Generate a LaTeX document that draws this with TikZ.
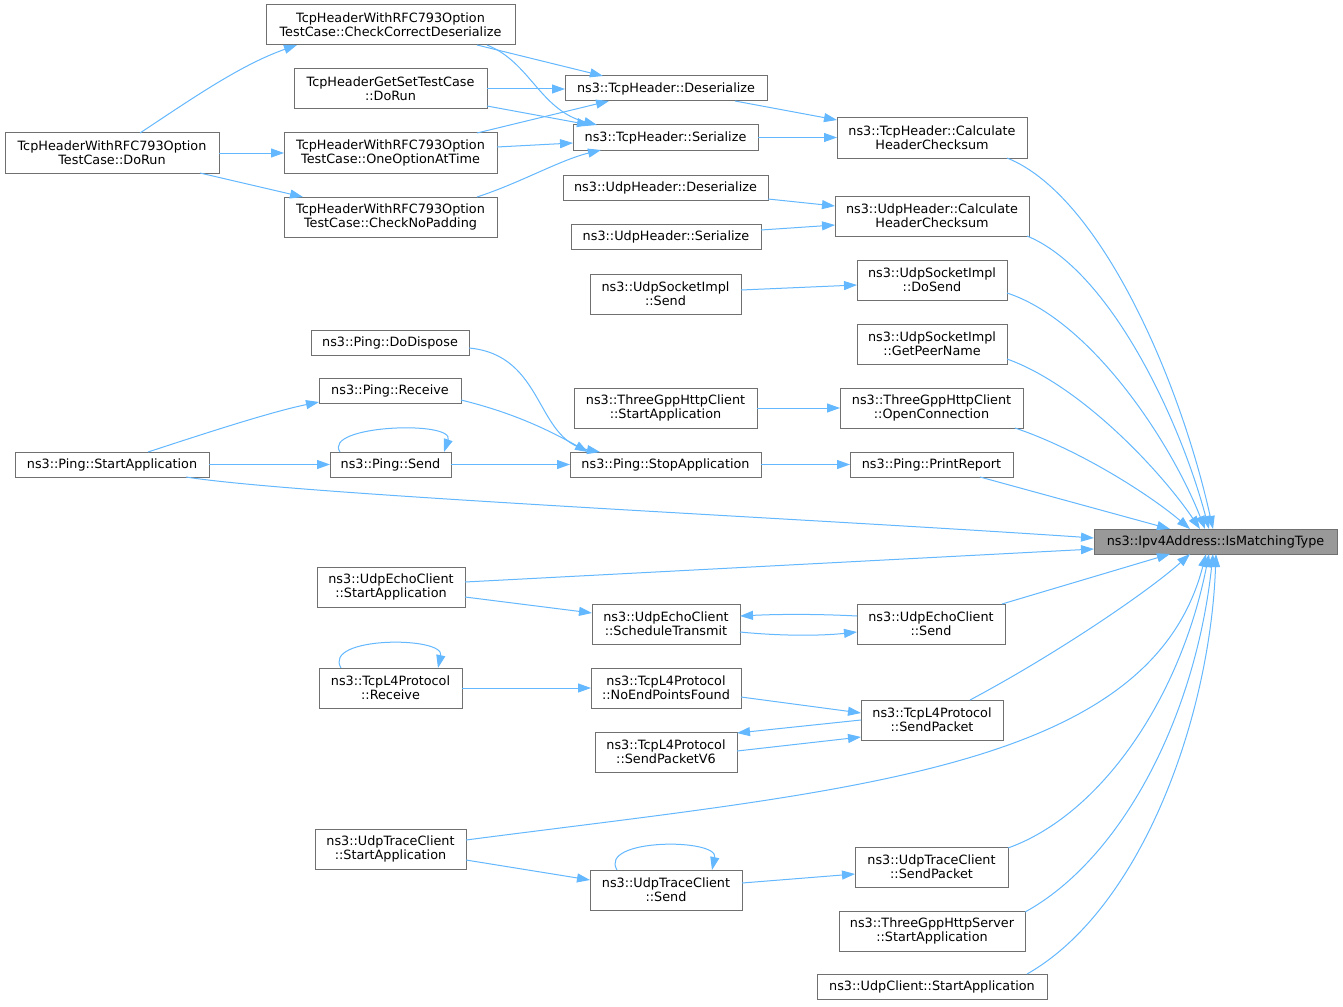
\documentclass[tikz,border=0pt]{standalone}
\usepackage{fontspec}
\setmainfont{DejaVu Sans}
\usetikzlibrary{arrows.meta,calc}
\definecolor{edgec}{HTML}{63B8FF}
\definecolor{bord}{HTML}{707070}
\definecolor{hl}{HTML}{999999}
\tikzset{
 box/.style={draw=bord, line width=1pt, fill=white, inner sep=0pt, outer sep=0pt, align=center, font=\fontsize{12.8}{14}\selectfont},
 hlbox/.style={box, fill=hl},
 edge/.style={draw=edgec, line width=1pt, -{Triangle[length=13pt,width=9pt]}},
}
\newcommand\dxnode[7][]{\node[box,#1,minimum width={#5-#3},minimum height={#6-#4}] (#2) at ({(#3+#5)/2},{(#4+#6)/2}) {#7};}
\begin{document}
\begin{tikzpicture}[x=1pt,y=-1pt]
\useasboundingbox[fill=white] (0,0) rectangle (1343,1006);
% nodes
\dxnode{ccd}{266}{5}{515}{45}{TcpHeaderWithRFC793Option\\TestCase::CheckCorrectDeserialize}
\dxnode{gsdr}{294}{69}{487}{109}{TcpHeaderGetSetTestCase\\::DoRun}
\dxnode{rfcdr}{5}{133}{219}{173}{TcpHeaderWithRFC793Option\\TestCase::DoRun}
\dxnode{ooat}{284}{133}{497}{173}{TcpHeaderWithRFC793Option\\TestCase::OneOptionAtTime}
\dxnode{cnp}{284}{197}{497}{237}{TcpHeaderWithRFC793Option\\TestCase::CheckNoPadding}
\dxnode{tdes}{565}{76}{767}{101}{ns3::TcpHeader::Deserialize}
\dxnode{tser}{573}{125}{758}{150}{ns3::TcpHeader::Serialize}
\dxnode{tchk}{837}{118}{1027}{158}{ns3::TcpHeader::Calculate\\HeaderChecksum}
\dxnode{udes}{563}{175}{768}{200}{ns3::UdpHeader::Deserialize}
\dxnode{user}{571}{224}{761}{249}{ns3::UdpHeader::Serialize}
\dxnode{uchk}{835}{196}{1029}{236}{ns3::UdpHeader::Calculate\\HeaderChecksum}
\dxnode{uss}{590}{274}{741}{314}{ns3::UdpSocketImpl\\::Send}
\dxnode{dosend}{857}{260}{1007}{300}{ns3::UdpSocketImpl\\::DoSend}
\dxnode{gpn}{857}{324}{1007}{364}{ns3::UdpSocketImpl\\::GetPeerName}
\dxnode{pdd}{311}{330}{469}{355}{ns3::Ping::DoDispose}
\dxnode{prcv}{319}{378}{461}{403}{ns3::Ping::Receive}
\dxnode{tgsa}{574}{388}{757}{428}{ns3::ThreeGppHttpClient\\::StartApplication}
\dxnode{tgoc}{840}{388}{1023}{428}{ns3::ThreeGppHttpClient\\::OpenConnection}
\dxnode{psa}{15}{452}{209}{477}{ns3::Ping::StartApplication}
\dxnode{psend}{330}{452}{451}{477}{ns3::Ping::Send}
\dxnode{pstop}{570}{452}{761}{477}{ns3::Ping::StopApplication}
\dxnode{ppr}{850}{452}{1013}{477}{ns3::Ping::PrintReport}
\dxnode[hlbox]{ipv4}{1094}{529}{1337}{554}{ns3::Ipv4Address::IsMatchingType}
\dxnode{uecsa}{317}{567}{465}{607}{ns3::UdpEchoClient\\::StartApplication}
\dxnode{uecst}{592}{604}{740}{644}{ns3::UdpEchoClient\\::ScheduleTransmit}
\dxnode{uecsend}{857}{604}{1005}{644}{ns3::UdpEchoClient\\::Send}
\dxnode{tcprcv}{319}{668}{462}{708}{ns3::TcpL4Protocol\\::Receive}
\dxnode{nepf}{591}{668}{741}{708}{ns3::TcpL4Protocol\\::NoEndPointsFound}
\dxnode{tcpsp}{861}{700}{1003}{740}{ns3::TcpL4Protocol\\::SendPacket}
\dxnode{tcpsp6}{595}{732}{737}{772}{ns3::TcpL4Protocol\\::SendPacketV6}
\dxnode{utcsa}{315}{829}{466}{869}{ns3::UdpTraceClient\\::StartApplication}
\dxnode{utcsend}{590}{870}{742}{910}{ns3::UdpTraceClient\\::Send}
\dxnode{utcsp}{855}{847}{1008}{887}{ns3::UdpTraceClient\\::SendPacket}
\dxnode{tghs}{839}{911}{1025}{951}{ns3::ThreeGppHttpServer\\::StartApplication}
\dxnode{ucsa}{817}{974}{1047}{999}{ns3::UdpClient::StartApplication}
% edges
\draw[edge] ([shift={(135,0)}]rfcdr.north west) .. controls +(50,-33) and +(-57,20) .. ([shift={(31,40)}]ccd.north west);
\draw[edge] (rfcdr.east) -- (ooat.west);
\draw[edge] ([shift={(195,40)}]rfcdr.north west) -- ([shift={(19,0)}]cnp.north west);
\draw[edge] ([shift={(211,40)}]ccd.north west) -- ([shift={(38,0)}]tdes.north west);
\draw[edge] ([shift={(221,40)}]ccd.north west) .. controls +(43,17) and +(-57,-15) .. ([shift={(24,0)}]tser.north west);
\draw[edge] (gsdr.east) -- (gsdr.east -| tdes.west);
\draw[edge] ([shift={(193,37)}]gsdr.north west) -- ([shift={(17,0)}]tser.north west);
\draw[edge] ([shift={(193,0)}]ooat.north west) -- ([shift={(44,25)}]tdes.north west);
\draw[edge] ([shift={(213,14)}]ooat.north west) -- ([shift={(0,18)}]tser.north west);
\draw[edge] ([shift={(193,0)}]cnp.north west) .. controls +(43,-14) and +(-41,10) .. ([shift={(28,25)}]tser.north west);
\draw[edge] ([shift={(170,25)}]tdes.north west) -- ([shift={(0,2)}]tchk.north west);
\draw[edge] (tser.east) -- (tser.east -| tchk.west);
\draw[edge] ([shift={(205,24)}]udes.north west) -- ([shift={(0,10)}]uchk.north west);
\draw[edge] ([shift={(190,6)}]user.north west) -- ([shift={(0,29)}]uchk.north west);
\draw[edge] ([shift={(151,16)}]uss.north west) -- ([shift={(0,25)}]dosend.north west);
\draw[edge] (tgsa.east) -- (tgoc.west);
\draw[edge] (pstop.east) -- (ppr.west);
\draw[edge] ([shift={(133,0)}]psa.north west) .. controls +(52,-17) and +(-49,10) .. ([shift={(0,24)}]prcv.north west);
\draw[edge] (psa.east) -- (psend.west);
\draw[edge] ([shift={(10,0)}]psend.north west) .. controls +(-18,-27) and +(11,-32) .. ([shift={(114,0)}]psend.north west);
\draw[edge] (psend.east) -- (pstop.west);
\draw[edge] ([shift={(158,18)}]pdd.north west) .. controls +(76,7) and +(-65,-12) .. ([shift={(30,0)}]pstop.north west);
\draw[edge] ([shift={(142,22)}]prcv.north west) .. controls +(49,12) and +(-43,-24) .. ([shift={(18,0)}]pstop.north west);
\draw[edge] ([shift={(171,25)}]psa.north west) .. controls +(114,18) and +(-294,-20) .. ([shift={(0,9)}]ipv4.north west);
\draw[edge] ([shift={(148,15)}]uecsa.north west) -- ([shift={(0,20)}]ipv4.north west);
\draw[edge] ([shift={(148,30)}]uecsa.north west) -- ([shift={(0,9)}]uecst.north west);
\draw[edge] ([shift={(0,12)}]uecsend.north west) .. controls +(-37,-2) and +(40,-2) .. ([shift={(148,12)}]uecst.north west);
\draw[edge] ([shift={(148,28)}]uecst.north west) .. controls +(40,4) and +(-37,4) .. ([shift={(0,28)}]uecsend.north west);
\draw[edge] ([shift={(145,0)}]uecsend.north west) -- ([shift={(76,25)}]ipv4.north west);
\draw[edge] ([shift={(22,0)}]tcprcv.north west) .. controls +(-19,-32) and +(7,-32) .. ([shift={(119,0)}]tcprcv.north west);
\draw[edge] (tcprcv.east) -- (nepf.west);
\draw[edge] ([shift={(150,29)}]nepf.north west) -- ([shift={(0,13)}]tcpsp.north west);
\draw[edge] ([shift={(0,20)}]tcpsp.north west) -- ([shift={(142,1)}]tcpsp6.north west);
\draw[edge] ([shift={(142,19)}]tcpsp6.north west) -- ([shift={(0,37)}]tcpsp.north west);
\draw[edge] ([shift={(109,0)}]tcpsp.north west) .. controls +(90,-48) and +(-40,36) .. ([shift={(96,25)}]ipv4.north west);
\draw[edge] ([shift={(151,11)}]utcsa.north west) .. controls +(384,-50) and +(-56,216) .. ([shift={(112,25)}]ipv4.north west);
\draw[edge] ([shift={(151,31)}]utcsa.north west) -- ([shift={(0,10)}]utcsend.north west);
\draw[edge] ([shift={(27,0)}]utcsend.north west) .. controls +(-19,-32) and +(7,-32) .. ([shift={(122,0)}]utcsend.north west);
\draw[edge] ([shift={(152,13)}]utcsend.north west) -- ([shift={(0,27)}]utcsp.north west);
\draw[edge] ([shift={(153,1)}]utcsp.north west) .. controls +(92,-33) and +(-29,146) .. ([shift={(115,25)}]ipv4.north west);
\draw[edge] ([shift={(186,1)}]tghs.north west) .. controls +(95,-52) and +(-18,166) .. ([shift={(119,25)}]ipv4.north west);
\draw[edge] ([shift={(210,0)}]ucsa.north west) .. controls +(113,-64) and +(-6,166) .. ([shift={(122,25)}]ipv4.north west);
\draw[edge] ([shift={(170,40)}]tchk.north west) .. controls +(93,37) and +(-33,-149) .. ([shift={(119,0)}]ipv4.north west);
\draw[edge] ([shift={(192,40)}]uchk.north west) .. controls +(83,34) and +(-29,-109) .. ([shift={(115,0)}]ipv4.north west);
\draw[edge] ([shift={(150,33)}]dosend.north west) .. controls +(83,27) and +(-35,-89) .. ([shift={(111,0)}]ipv4.north west);
\draw[edge] ([shift={(150,35)}]gpn.north west) .. controls +(73,26) and +(-40,-59) .. ([shift={(106,0)}]ipv4.north west);
\draw[edge] ([shift={(175,40)}]tgoc.north west) .. controls +(65,22) and +(-40,-34) .. ([shift={(96,0)}]ipv4.north west);
\draw[edge] ([shift={(130,25)}]ppr.north west) -- ([shift={(76,0)}]ipv4.north west);
\end{tikzpicture}
\end{document}
